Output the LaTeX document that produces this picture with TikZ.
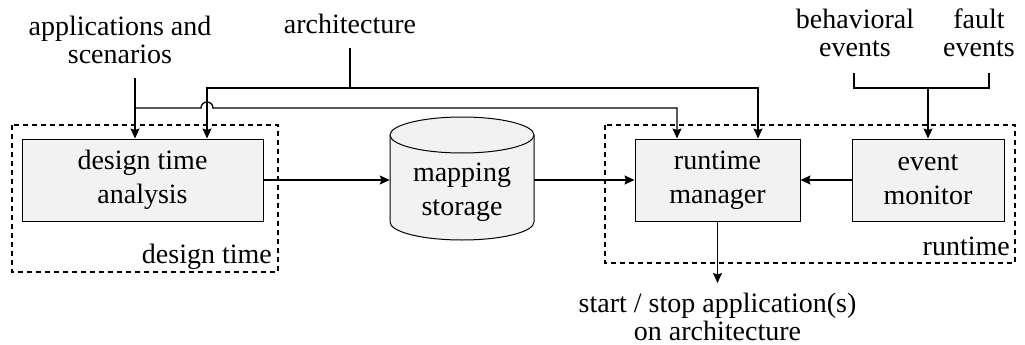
\documentclass[tikz,border=0pt]{standalone}
\usepackage{fontspec}
\setmainfont{Liberation Serif}
\usetikzlibrary{arrows.meta}
\definecolor{boxfill}{HTML}{F2F2F2}
\tikzset{
  conn/.style={line width=1.3pt},
  arr/.style={conn, -{Stealth[length=10pt,width=9pt,inset=1.5pt]}},
  block/.style={draw, line width=1pt, fill=boxfill, inner sep=0pt,
    font=\fontsize{28}{34}\selectfont, align=center},
  lbl/.style={inner sep=0pt, font=\fontsize{28}{28}\selectfont, align=center},
  group/.style={draw, line width=1.2pt, dash pattern=on 5pt off 4pt}
}
\begin{document}
\begin{tikzpicture}[x=1pt,y=-1pt]
\useasboundingbox (0,0) rectangle (1025,345);

% dashed phase frames
\draw[group] (12,125) rectangle (278,272);
\draw[group] (605,125) rectangle (1015,263);
\node[lbl, anchor=base east] (dtlabel) at (272,263) {design time};
\node[lbl, anchor=base east] (rtlabel) at (1010,255) {runtime};

% processing blocks
\node[block, minimum width=241pt, minimum height=82pt] (design) at (142.5,180) {design time\\analysis};
\node[block, minimum width=165pt, minimum height=82pt] (manager) at (717.5,180) {runtime\\manager};
\node[block, minimum width=152pt, minimum height=82pt] (monitor) at (928,180) {event\\monitor};

% mapping storage cylinder
\draw[line width=1pt, fill=boxfill] (390,135) -- (390,222)
  arc[start angle=180, end angle=360, x radius=72pt, y radius=18pt]
  -- (534,135);
\draw[line width=1pt, fill=boxfill] (462,135) ellipse [x radius=72pt, y radius=18pt];
\node[inner sep=0pt, minimum width=144pt, font=\fontsize{28}{34}\selectfont, align=center]
  (storage) at (462,192) {mapping\\storage};

% input labels
\node[lbl, anchor=north] (apps) at (120,15.9) {applications and\\scenarios};
\node[lbl, anchor=base] (arch) at (350,34) {architecture};
\node[lbl, anchor=north] (behav) at (855,9) {behavioral\\events};
\node[lbl, anchor=north] (fault) at (979,9) {fault\\events};
\node[lbl, anchor=north] (out) at (717.5,292.6) {start / stop application(s)\\on architecture};

% connector end points below the labels
\coordinate (appsfoot) at (135,78);
\coordinate (archfoot) at (350,48);
\coordinate (archbus) at (350,88);
\coordinate (behavfoot) at (854,73);
\coordinate (faultfoot) at (989,73);
\coordinate (evbus) at (928,88);
\coordinate (outhead) at (717.5,283);

% applications and scenarios
\draw[arr] (appsfoot) -- (appsfoot |- design.north);
\draw[arr] (135,108) -- (201,108)
  arc[start angle=180, end angle=0, radius=6pt]
  -- (677,108) -- (677,0 |- manager.north);

% architecture
\draw[conn] (archfoot) -- (archbus);
\draw[arr] (archbus) -- (207,88) -- (207,0 |- design.north);
\draw[arr] (archbus) -- (758,88) -- (758,0 |- manager.north);

% events
\draw[conn] (behavfoot) -- (854,88) -- (989,88) -- (faultfoot);
\draw[arr] (evbus) -- (monitor.north);

% main flow
\draw[arr] (design.east) -- (design.east -| storage.west);
\draw[arr] (storage.east |- manager.west) -- (manager.west);
\draw[arr] (monitor.west) -- (manager.east);
\draw[arr] (manager.south) -- (outhead);
\end{tikzpicture}
\end{document}
